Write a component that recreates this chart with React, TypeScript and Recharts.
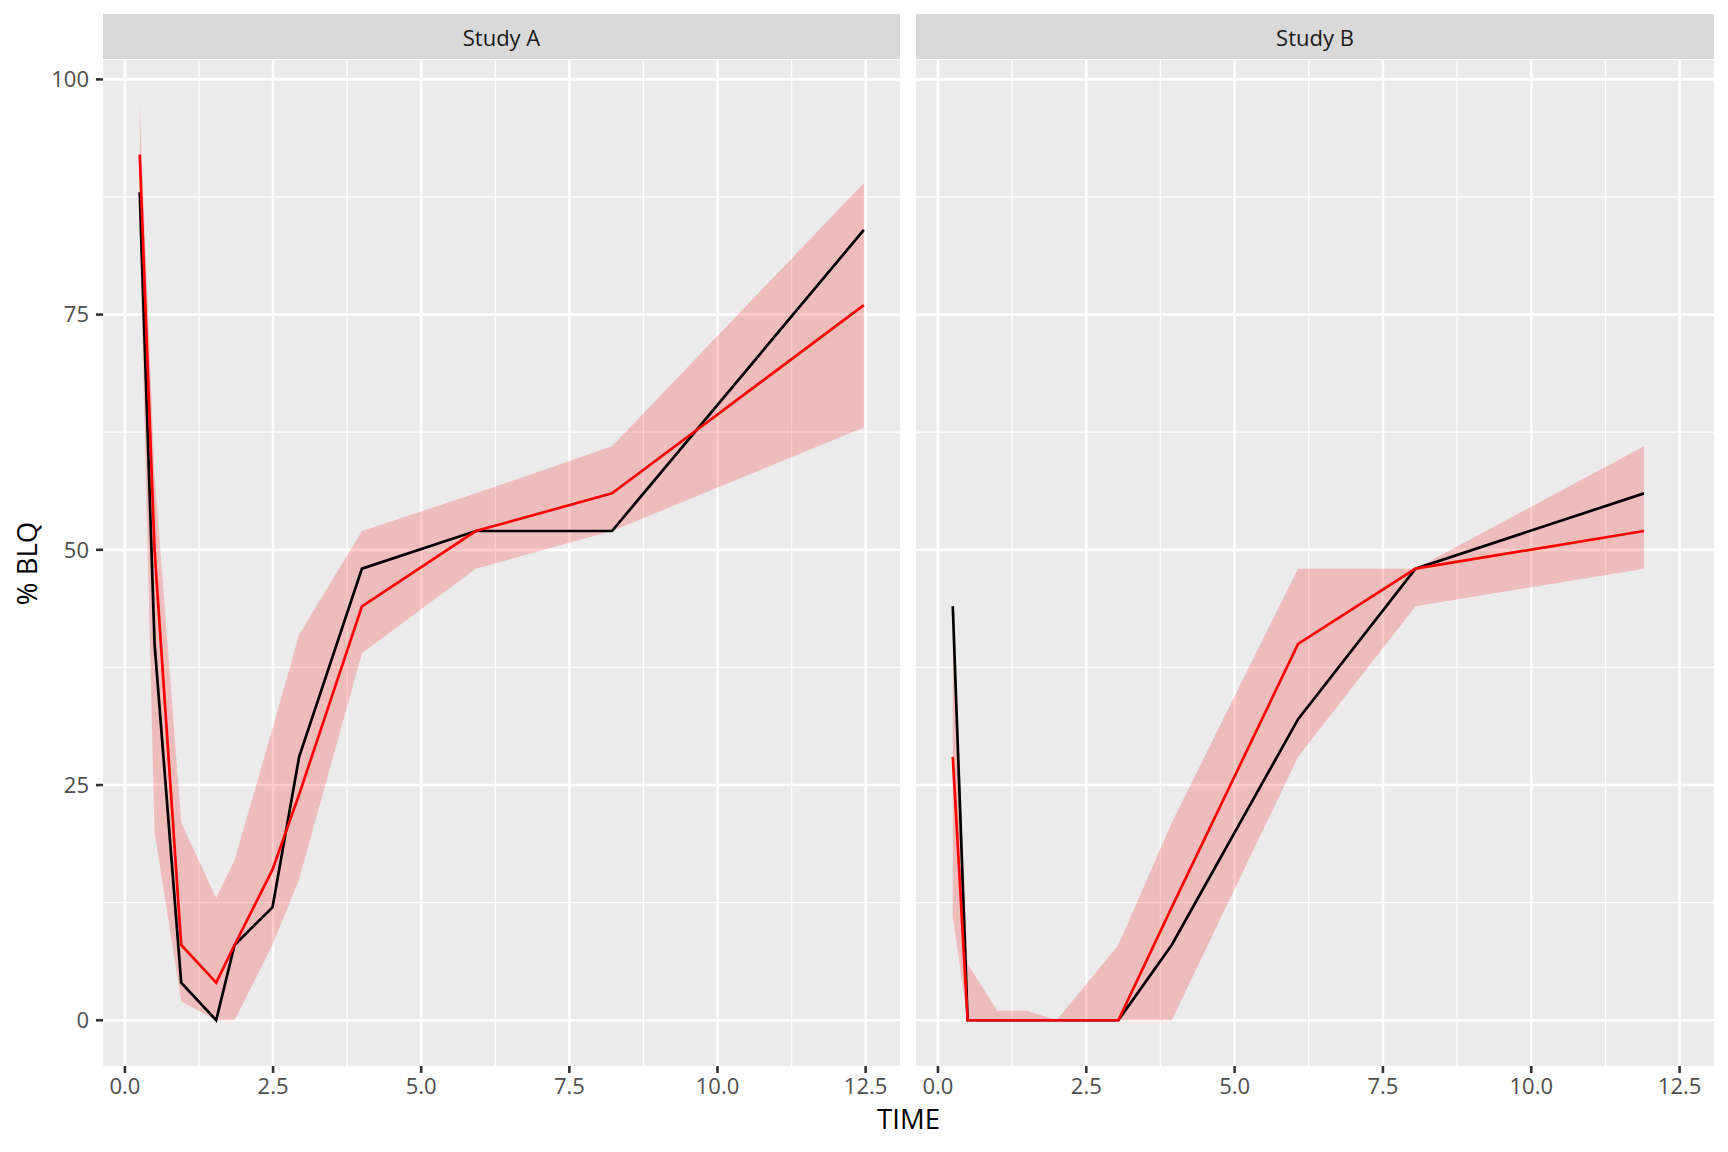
import React from 'react';
import { ComposedChart, Area, Line, XAxis, YAxis, CartesianGrid } from 'recharts';

// ---- Study A ----
const timeA = [0.25, 0.5, 0.95, 1.54, 1.85, 2.49, 2.94, 4.0, 5.92, 8.22, 12.47];
const observedA = [88, 40, 4, 0, 8, 12, 28, 48, 52, 52, 84];
const simulatedA = [92, 50, 8, 4, 8, 16, 24, 44, 52, 56, 76];
const lowerA = [84, 20, 2, 0, 0, 8, 15, 39, 48, 52, 63];
const upperA = [97.2, 58, 21, 13, 17, 31, 41, 52, 56, 61, 89];

// ---- Study B ----
const timeB = [0.25, 0.5, 1.0, 1.5, 2.0, 3.04, 3.94, 6.07, 8.05, 11.9];
const observedB = [44, 0, 0, 0, 0, 0, 8, 32, 48, 56];
const simulatedB = [28, 0, 0, 0, 0, 0, 12, 40, 48, 52];
const lowerB = [11, 0, 0, 0, 0, 0, 0, 28, 44, 48];
const upperB = [45, 6, 1, 1, 0, 8, 21, 48, 48, 61];

const panelTitles = ['Study A', 'Study B'];
const xTicks = [0, 2.5, 5, 7.5, 10, 12.5];
const xMinor = [1.25, 3.75, 6.25, 8.75, 11.25];
const yTicks = [0, 25, 50, 75, 100];
const yMinor = [12.5, 37.5, 62.5, 87.5];
const xDomain: [number, number] = [-0.37, 13.08];
const yDomain: [number, number] = [-4.86, 102.06];
const xTitle = 'TIME';
const yTitle = '% BLQ';

const build = (t: number[], obs: number[], sim: number[], lo: number[], hi: number[]) =>
  t.map((v, i) => ({ t: v, obs: obs[i], sim: sim[i], band: [lo[i], hi[i]] }));

const dataA = build(timeA, observedA, simulatedA, lowerA, upperA);
const dataB = build(timeB, observedB, simulatedB, lowerB, upperB);

const FONT = '"Open Sans", "Noto Sans", sans-serif';
const W = 1728;
const H = 1152;
const TOP = 60;
const BOTTOM = 1066;
const XAXIS_H = 60;

const tickStyle = { fill: '#4D4D4D', fontSize: 22, fontFamily: FONT };
const tickLineStyle = { stroke: '#333333', strokeWidth: 2.6 };

function Panel({ data, showY, width, yWidth }: { data: any[]; showY: boolean; width: number; yWidth: number }) {
  return (
    <ComposedChart
      width={width}
      height={H}
      data={data}
      margin={{ top: TOP, right: 0, left: 0, bottom: H - BOTTOM - XAXIS_H }}
    >
      <CartesianGrid
        fill="#EBEBEB"
        fillOpacity={1}
        stroke="#FFFFFF"
        strokeWidth={1.3}
        verticalValues={xMinor}
        horizontalValues={yMinor}
      />
      <CartesianGrid
        stroke="#FFFFFF"
        strokeWidth={2.6}
        verticalValues={xTicks}
        horizontalValues={yTicks}
      />
      <XAxis
        dataKey="t"
        type="number"
        domain={xDomain}
        allowDataOverflow
        ticks={xTicks}
        interval={0}
        tickFormatter={(v: number) => v.toFixed(1)}
        axisLine={false}
        tickLine={tickLineStyle}
        tickSize={7}
        tickMargin={5}
        tick={tickStyle}
        height={XAXIS_H}
      />
      <YAxis
        type="number"
        domain={yDomain}
        allowDataOverflow
        ticks={yTicks}
        interval={0}
        hide={!showY}
        width={yWidth}
        axisLine={false}
        tickLine={tickLineStyle}
        tickSize={7}
        tickMargin={7}
        tick={tickStyle}
      />
      <Area
        dataKey="band"
        type="linear"
        stroke="none"
        fill="#FF0000"
        fillOpacity={0.2}
        dot={false}
        activeDot={false}
        isAnimationActive={false}
      />
      <Line
        dataKey="obs"
        type="linear"
        stroke="#000000"
        strokeWidth={2.7}
        dot={false}
        activeDot={false}
        isAnimationActive={false}
      />
      <Line
        dataKey="sim"
        type="linear"
        stroke="#FF0000"
        strokeWidth={2.7}
        dot={false}
        activeDot={false}
        isAnimationActive={false}
      />
    </ComposedChart>
  );
}

const stripStyle = (left: number, width: number): React.CSSProperties => ({
  position: 'absolute',
  left,
  top: 14,
  width,
  height: 45,
  background: '#D9D9D9',
  color: '#1A1A1A',
  fontFamily: FONT,
  fontSize: 22,
  display: 'flex',
  alignItems: 'center',
  justifyContent: 'center',
  lineHeight: 1,
});

export default function App() {
  return (
    <div style={{ position: 'absolute', left: 0, top: 0, width: W, height: H, background: '#FFFFFF', overflow: 'hidden' }}>
      <div style={{ position: 'absolute', left: 0, top: 0 }}>
        <Panel data={dataA} showY={true} width={900} yWidth={103} />
      </div>
      <div style={{ position: 'absolute', left: 916, top: 0 }}>
        <Panel data={dataB} showY={false} width={798} yWidth={0} />
      </div>
      <div style={stripStyle(103, 797)}>{panelTitles[0]}</div>
      <div style={stripStyle(916, 798)}>{panelTitles[1]}</div>
      <svg width={W} height={H} style={{ position: 'absolute', left: 0, top: 0, pointerEvents: 'none' }}>
        <text x={908.5} y={1129} textAnchor="middle" fontFamily={FONT} fontSize={27.5} fill="#000000">
          {xTitle}
        </text>
        <text
          x={37}
          y={563.5}
          textAnchor="middle"
          fontFamily={FONT}
          fontSize={27.5}
          fill="#000000"
          transform="rotate(-90 37 563.5)"
        >
          {yTitle}
        </text>
      </svg>
    </div>
  );
}
